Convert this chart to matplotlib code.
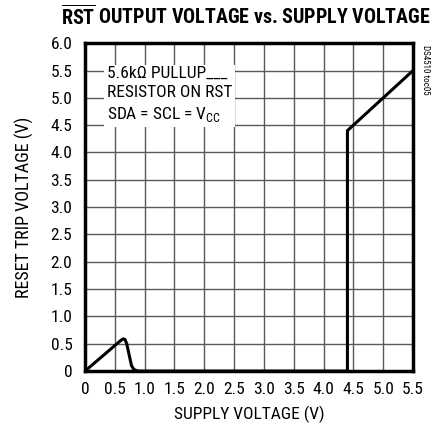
import matplotlib
matplotlib.use("Agg")
import matplotlib.pyplot as plt
from matplotlib import font_manager

# supply voltage vs RST output voltage
supplyV = [0, 0.3, 0.6, 0.64, 0.67, 0.7, 0.74, 0.78, 0.82, 0.86, 0.9, 4.4, 4.4, 5.5]
rstV = [0, 0.28, 0.56, 0.59, 0.58, 0.5, 0.3, 0.1, 0.03, 0.01, 0.0, 0.0, 4.4, 5.5]

xTicks = [0, 0.5, 1.0, 1.5, 2.0, 2.5, 3.0, 3.5, 4.0, 4.5, 5.0, 5.5]
xTickLabels = ["0", "0.5", "1.0", "1.5", "2.0", "2.5", "3.0", "3.5", "4.0", "4.5", "5.0", "5.5"]
yTicks = [0, 0.5, 1.0, 1.5, 2.0, 2.5, 3.0, 3.5, 4.0, 4.5, 5.0, 5.5, 6.0]
yTickLabels = ["0", "0.5", "1.0", "1.5", "2.0", "2.5", "3.0", "3.5", "4.0", "4.5", "5.0", "5.5", "6.0"]

# condensed face if there is one, like the datasheet
names = set(f.name for f in font_manager.fontManager.ttflist)
narrow = [n for n in ["Roboto Condensed", "Liberation Sans Narrow", "Open Sans Condensed"] if n in names]
mainFont = narrow[0] if narrow else "Roboto"

plt.rcParams['font.family'] = [mainFont, "DejaVu Sans"]
plt.rcParams['mathtext.fontset'] = 'custom'
plt.rcParams['mathtext.rm'] = mainFont
plt.rcParams['mathtext.bf'] = mainFont + ':bold'

fig = plt.figure(figsize=(4.38, 4.32), dpi=100, facecolor='white')
ax = fig.add_axes([0.194, 0.141, 0.749, 0.759])

ax.plot(supplyV, rstV, color='black', lw=2.2, solid_joinstyle='round', zorder=3)

ax.set_xlim(0, 5.5)
ax.set_ylim(0, 6.0)
ax.set_xticks(xTicks)
ax.set_xticklabels(xTickLabels)
ax.set_yticks(yTicks)
ax.set_yticklabels(yTickLabels)
ax.tick_params(length=0, labelsize=12.5)
ax.tick_params(axis='x', pad=8)
ax.tick_params(axis='y', pad=9)
ax.grid(True, color='#5a5a5a', lw=1.0)
ax.set_axisbelow(True)
for s in ax.spines.values():
    s.set_linewidth(2.5)
    s.set_color('black')

ax.set_xlabel("SUPPLY VOLTAGE (V)", fontsize=12.5, labelpad=6)
ax.set_ylabel("RESET TRIP VOLTAGE (V)", fontsize=13, labelpad=12)

fig.text(0.562, 0.963, r"$\overline{\mathbf{RST}}$" + " OUTPUT VOLTAGE vs. SUPPLY VOLTAGE",
         ha='center', va='center', fontsize=14.4, fontweight='bold')

ax.text(0.067, 0.93, "5.6k\u03a9 PULLUP___\nRESISTOR ON RST\nSDA = SCL = V$_{\\mathrm{CC}}$",
        transform=ax.transAxes, ha='left', va='top', fontsize=12.5, linespacing=1.35,
        bbox=dict(facecolor='white', edgecolor='none', pad=2), zorder=4)

fig.text(0.972, 0.895, "DS4510 toc05", rotation=270, ha='center', va='top', fontsize=6.5)

plt.savefig("out.png", dpi=100)
